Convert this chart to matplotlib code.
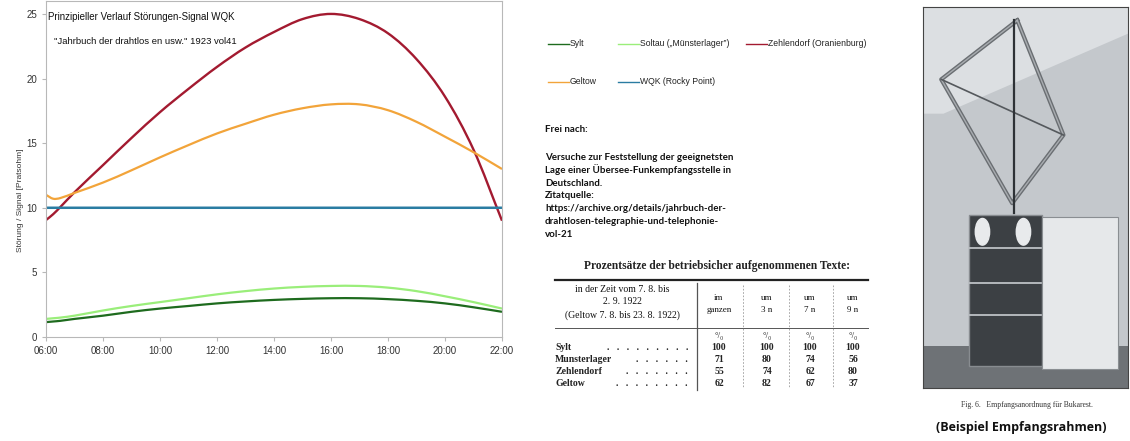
import matplotlib
matplotlib.use("Agg")
import matplotlib.pyplot as plt
from matplotlib.lines import Line2D
from matplotlib.patches import Rectangle, Polygon, PathPatch
from matplotlib.path import Path

# --- Daten ---
stunden = [6, 6.25, 6.5, 7, 8, 9, 10, 11, 12, 13, 14, 15, 16, 17, 18, 19, 20, 21, 22]
sylt = [1.15, 1.2, 1.25, 1.4, 1.65, 1.95, 2.2, 2.4, 2.6, 2.75, 2.87, 2.95, 3.0, 3.0, 2.93, 2.8, 2.6, 2.3, 1.95]
soltau = [1.4, 1.45, 1.5, 1.65, 2.05, 2.4, 2.7, 3.0, 3.3, 3.55, 3.75, 3.88, 3.95, 3.95, 3.82, 3.55, 3.15, 2.7, 2.2]
zehlendorf = [9.05, 9.5, 10.05, 11.2, 13.3, 15.4, 17.4, 19.2, 20.9, 22.4, 23.6, 24.6, 25.0, 24.6, 23.5, 21.5, 18.6, 14.5, 9.0]
geltow = [11.0, 10.7, 10.75, 11.15, 11.95, 12.9, 13.9, 14.85, 15.75, 16.5, 17.2, 17.7, 18.0, 18.0, 17.55, 16.65, 15.5, 14.3, 13.0]
wqk = [10.0] * len(stunden)

serien = [sylt, soltau, zehlendorf, geltow, wqk]
namen = ["Sylt", "Soltau (\u201eMünsterlager\u201d)", "Zehlendorf (Oranienburg)", "Geltow", "WQK (Rocky Point)"]
farben = ["#1e6b1e", "#9aee7a", "#a31a30", "#f2a43a", "#2a7ca2"]
xticks = [6, 8, 10, 12, 14, 16, 18, 20, 22]

tab_orte = ["Sylt", "Munsterlager", "Zehlendorf", "Geltow"]
im_ganzen = [100, 71, 55, 62]
um_3 = [100, 80, 74, 82]
um_7 = [100, 74, 62, 67]
um_9 = [100, 56, 80, 37]

W, H = 1130, 441
def fx(x):
    return x / W
def fy(y):
    return 1 - y / H


def glatte_linie(ax, xs, ys, **kw):
    # geglaettete Linie wie in der Tabellenkalkulation (kubische Bezier-Segmente)
    n = len(xs)
    m = []
    for i in range(n):
        a, b = max(i - 1, 0), min(i + 1, n - 1)
        m.append((ys[b] - ys[a]) / (xs[b] - xs[a]))
    verts = [(xs[0], ys[0])]
    codes = [Path.MOVETO]
    for i in range(n - 1):
        d = (xs[i + 1] - xs[i]) / 3
        verts += [(xs[i] + d, ys[i] + m[i] * d), (xs[i + 1] - d, ys[i + 1] - m[i + 1] * d), (xs[i + 1], ys[i + 1])]
        codes += [Path.CURVE4] * 3
    ax.add_patch(PathPatch(Path(verts, codes), fill=False, **kw))


fig = plt.figure(figsize=(W / 100, H / 100), dpi=100)
fig.patch.set_facecolor("white")

# --- Diagramm ---
ax = fig.add_axes([fx(46), fy(337), fx(502) - fx(46), fy(1) - fy(337)])
lw = [1.6, 1.6, 1.7, 1.6, 1.8]
for werte, f, w in zip(serien, farben, lw):
    glatte_linie(ax, stunden, werte, edgecolor=f, lw=w, capstyle="butt")
ax.set_xlim(6, 22)
ax.set_ylim(0, 26)
ax.set_yticks([0, 5, 10, 15, 20, 25])
ax.set_xticks(xticks)
ax.set_xticklabels(["%02d:00" % h for h in xticks])
for s in ax.spines.values():
    s.set_color("#b8b8b8")
    s.set_linewidth(0.8)
ax.tick_params(labelsize=7, colors="#b8b8b8", labelcolor="#333333", length=3, width=0.8)
for lab in ax.get_xticklabels() + ax.get_yticklabels():
    lab.set_family("Liberation Sans")
fig.text(fx(21), fy(200), "Störung / Signal [Pratsohm]", rotation=90, ha="center", va="center",
         fontsize=6, color="#333333", family="Liberation Sans")
fig.text(fx(48), fy(17), "Prinzipieller Verlauf Störungen-Signal WQK", fontsize=7,
         family="Liberation Sans", va="center", color="#111111")
fig.text(fx(54), fy(41), "\"Jahrbuch der drahtlos en usw.\" 1923 vol41", fontsize=6.8,
         family="Liberation Sans", va="center", color="#111111")

# --- Legende ---
leg_pos = [(548, 44), (618, 44), (746, 44), (548, 82), (618, 82)]
for (lx, ly), n, f in zip(leg_pos, namen, farben):
    fig.add_artist(Line2D([fx(lx), fx(lx + 21)], [fy(ly), fy(ly)], color=f, lw=1.0))
    fig.text(fx(lx + 22), fy(ly), n, fontsize=6.2, family="Liberation Sans", va="center", color="#222222")

# --- Quellenangabe ---
quelle = [
    (130, "Frei nach:"),
    (157, "Versuche zur Feststellung der geeignetsten"),
    (170, "Lage einer Übersee-Funkempfangsstelle in"),
    (183, "Deutschland."),
    (196, "Zitatquelle:"),
    (209, "https://archive.org/details/jahrbuch-der-"),
    (222, "drahtlosen-telegraphie-und-telephonie-"),
    (235, "vol-21"),
]
for y, t in quelle:
    fig.text(fx(545), fy(y), t, fontsize=7.0, family="Lato", weight="bold", va="center", color="#111111")

# --- Tabelle ---
serif = ["Liberation Serif", "DejaVu Serif"]
fig.text(fx(717), fy(266), "Prozentsätze der betriebsicher aufgenommenen Texte:", fontsize=8.3,
         family=serif, weight="bold", ha="center", va="center", color="#222222")
fig.add_artist(Line2D([fx(555), fx(868)], [fy(280), fy(280)], color="#222222", lw=1.6))
fig.add_artist(Line2D([fx(555), fx(868)], [fy(328), fy(328)], color="#555555", lw=0.7))
fig.add_artist(Line2D([fx(697), fx(697)], [fy(283), fy(390)], color="#555555", lw=0.9))
for vx in [743, 789, 833]:
    fig.add_artist(Line2D([fx(vx), fx(vx)], [fy(285), fy(388)], color="#999999", lw=0.6, ls=(0, (2, 2))))
for y, t in [(290, "in der Zeit vom 7. 8. bis"), (302, "2. 9. 1922"), (315, "(Geltow 7. 8. bis 23. 8. 1922)")]:
    fig.text(fx(622), fy(y), t, fontsize=7, family=serif, ha="center", va="center", color="#111111")
spalten_x = [719, 767, 810, 853]
for sx, (a, b) in zip(spalten_x, [("im", "ganzen"), ("um", "3 n"), ("um", "7 n"), ("um", "9 n")]):
    fig.text(fx(sx), fy(298), a, fontsize=6.5, family=serif, ha="center", va="center", color="#111111")
    fig.text(fx(sx), fy(310), b, fontsize=6.5, family=serif, ha="center", va="center", color="#111111")
    fig.text(fx(sx), fy(336), "°/\u2080", fontsize=6.5, family=serif, ha="center", va="center", color="#222222")
zeilen_y = [347, 359, 372, 384]
punkte = [9, 6, 7, 8]
for i, (ort, y) in enumerate(zip(tab_orte, zeilen_y)):
    fig.text(fx(555), fy(y), ort, fontsize=7, family=serif, weight="bold", va="center", color="#222222")
    fig.text(fx(688), fy(y), "   ".join(["."] * punkte[i]), fontsize=7, family=serif, weight="bold",
             ha="right", va="center", color="#222222")
    for sx, werte in zip(spalten_x, [im_ganzen, um_3, um_7, um_9]):
        fig.text(fx(sx), fy(y), str(werte[i]), fontsize=7, family=serif, weight="bold",
                 ha="center", va="center", color="#222222")

# --- Foto (vereinfachte Skizze) ---
px = fig.add_axes([fx(923), fy(388), fx(1128) - fx(923), fy(7) - fy(388)])
px.set_xlim(0, 1)
px.set_ylim(0, 1)
px.set_xticks([])
px.set_yticks([])
for s in px.spines.values():
    s.set_color("#444444")
    s.set_linewidth(0.8)
px.set_facecolor("#c4c8cc")
px.add_patch(Polygon([(0, 1), (1, 1), (1, 0.93), (0.1, 0.72), (0, 0.72)], color="#dcdfe2", lw=0))
px.add_patch(Rectangle((0, 0), 1, 0.11, color="#6e7276", lw=0))
frame = [(0.46, 0.965), (0.089, 0.81), (0.435, 0.485), (0.685, 0.664), (0.46, 0.965)]
px.plot([p[0] for p in frame], [p[1] for p in frame], color="#6a6e72", lw=3.0)
px.plot([p[0] for p in frame], [p[1] for p in frame], color="#a8acb0", lw=1.0)
px.plot([0.089, 0.685], [0.81, 0.664], color="#55595d", lw=1.2)
px.plot([0.445, 0.445], [0.965, 0.46], color="#2e3236", lw=1.6)
px.add_patch(Rectangle((0.226, 0.057), 0.354, 0.397, facecolor="#3c4044", edgecolor="#888c90", lw=1))
px.add_patch(Rectangle((0.58, 0.05), 0.37, 0.40, facecolor="#e6e8ea", edgecolor="#8a8e92", lw=0.8))
for sy in [0.367, 0.275, 0.192]:
    px.plot([0.23, 0.576], [sy, sy], color="#c8ccd0", lw=1.2)
for cx in [0.29, 0.49]:
    px.add_patch(plt.Circle((cx, 0.41), 0.035, color="#e8eaec"))

fig.text(fx(1027), fy(405), "Fig. 6.   Empfangsanordnung für Bukarest.", fontsize=5.5, family=serif,
         ha="center", va="center", color="#333333")
fig.text(fx(1021), fy(428), "(Beispiel Empfangsrahmen)", fontsize=9, family="Open Sans", weight="bold",
         ha="center", va="center", color="#111111")

fig.savefig("out.png", dpi=100)
